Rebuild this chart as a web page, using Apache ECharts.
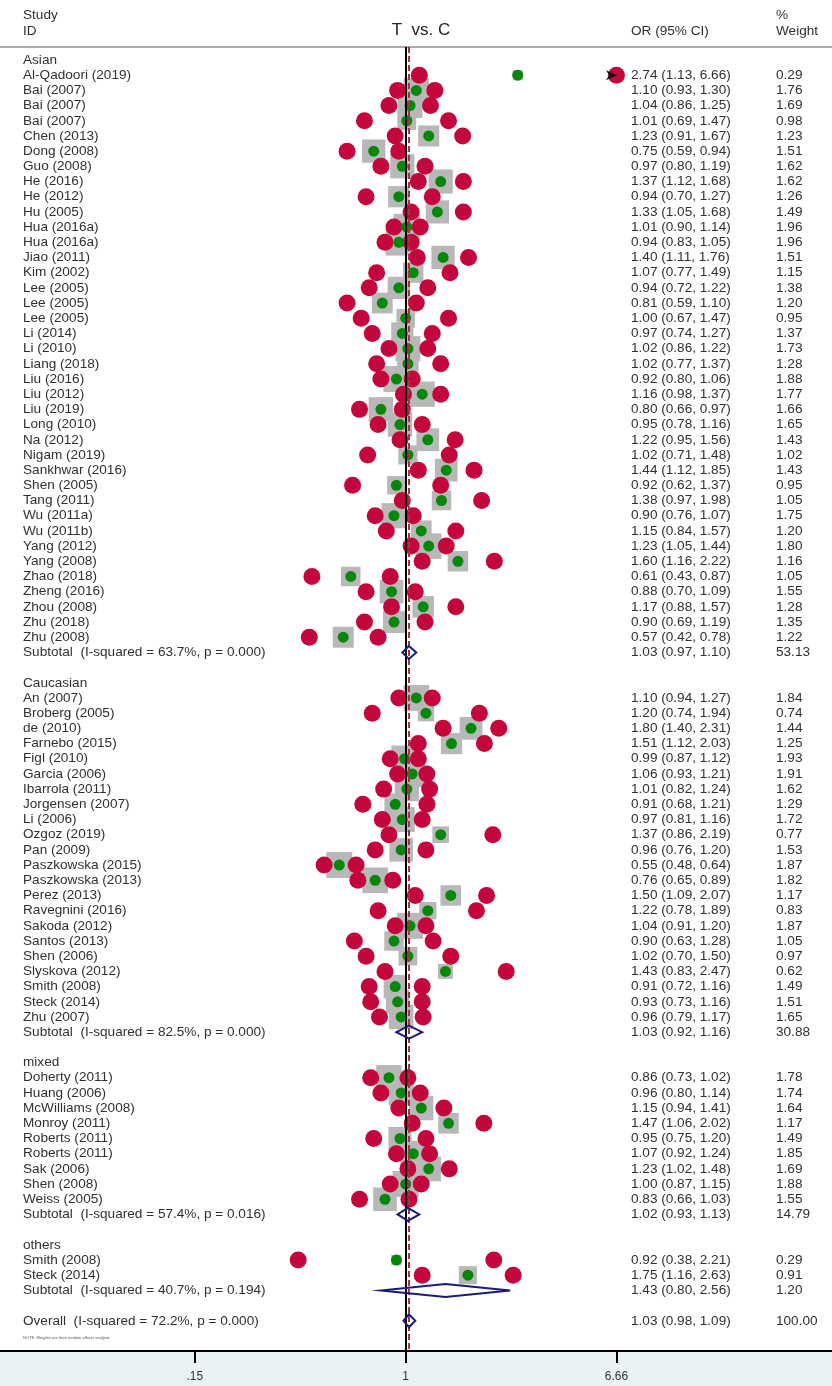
<!DOCTYPE html>
<html>
<head>
<meta charset="utf-8">
<title>T vs. C</title>
<script src="https://cdn.jsdelivr.net/npm/echarts@6.0.0/dist/echarts.min.js"></script>
<style>
  html, body { margin: 0; padding: 0; background: #fff; }
  #chart { width: 832px; height: 1386px; }
</style>
</head>
<body>
<div id="chart"></div>
<script>
// ---- data ----
const groupNames = ['Asian', 'Caucasian', 'mixed', 'others'];

const asianStudies = ['Al-Qadoori (2019)', 'Bai (2007)', 'Bai (2007)', 'Bai (2007)', 'Chen (2013)', 'Dong (2008)', 'Guo (2008)', 'He (2016)', 'He (2012)', 'Hu (2005)', 'Hua (2016a)', 'Hua (2016a)', 'Jiao (2011)', 'Kim (2002)', 'Lee (2005)', 'Lee (2005)', 'Lee (2005)', 'Li (2014)', 'Li (2010)', 'Liang (2018)', 'Liu (2016)', 'Liu (2012)', 'Liu (2019)', 'Long (2010)', 'Na (2012)', 'Nigam (2019)', 'Sankhwar (2016)', 'Shen (2005)', 'Tang (2011)', 'Wu (2011a)', 'Wu (2011b)', 'Yang (2012)', 'Yang (2008)', 'Zhao (2018)', 'Zheng (2016)', 'Zhou (2008)', 'Zhu (2018)', 'Zhu (2008)'];
const asianOR = [2.74, 1.10, 1.04, 1.01, 1.23, 0.75, 0.97, 1.37, 0.94, 1.33, 1.01, 0.94, 1.40, 1.07, 0.94, 0.81, 1.00, 0.97, 1.02, 1.02, 0.92, 1.16, 0.80, 0.95, 1.22, 1.02, 1.44, 0.92, 1.38, 0.90, 1.15, 1.23, 1.60, 0.61, 0.88, 1.17, 0.90, 0.57];
const asianLower = [1.13, 0.93, 0.86, 0.69, 0.91, 0.59, 0.80, 1.12, 0.70, 1.05, 0.90, 0.83, 1.11, 0.77, 0.72, 0.59, 0.67, 0.74, 0.86, 0.77, 0.80, 0.98, 0.66, 0.78, 0.95, 0.71, 1.12, 0.62, 0.97, 0.76, 0.84, 1.05, 1.16, 0.43, 0.70, 0.88, 0.69, 0.42];
const asianUpper = [6.66, 1.30, 1.25, 1.47, 1.67, 0.94, 1.19, 1.68, 1.27, 1.68, 1.14, 1.05, 1.76, 1.49, 1.22, 1.10, 1.47, 1.27, 1.22, 1.37, 1.06, 1.37, 0.97, 1.16, 1.56, 1.48, 1.85, 1.37, 1.98, 1.07, 1.57, 1.44, 2.22, 0.87, 1.09, 1.57, 1.19, 0.78];
const asianWeight = [0.29, 1.76, 1.69, 0.98, 1.23, 1.51, 1.62, 1.62, 1.26, 1.49, 1.96, 1.96, 1.51, 1.15, 1.38, 1.20, 0.95, 1.37, 1.73, 1.28, 1.88, 1.77, 1.66, 1.65, 1.43, 1.02, 1.43, 0.95, 1.05, 1.75, 1.20, 1.80, 1.16, 1.05, 1.55, 1.28, 1.35, 1.22];

const caucasianStudies = ['An (2007)', 'Broberg (2005)', 'de (2010)', 'Farnebo (2015)', 'Figl (2010)', 'Garcia (2006)', 'Ibarrola (2011)', 'Jorgensen (2007)', 'Li (2006)', 'Ozgoz (2019)', 'Pan (2009)', 'Paszkowska (2015)', 'Paszkowska (2013)', 'Perez (2013)', 'Ravegnini (2016)', 'Sakoda (2012)', 'Santos (2013)', 'Shen (2006)', 'Slyskova (2012)', 'Smith (2008)', 'Steck (2014)', 'Zhu (2007)'];
const caucasianOR = [1.10, 1.20, 1.80, 1.51, 0.99, 1.06, 1.01, 0.91, 0.97, 1.37, 0.96, 0.55, 0.76, 1.50, 1.22, 1.04, 0.90, 1.02, 1.43, 0.91, 0.93, 0.96];
const caucasianLower = [0.94, 0.74, 1.40, 1.12, 0.87, 0.93, 0.82, 0.68, 0.81, 0.86, 0.76, 0.48, 0.65, 1.09, 0.78, 0.91, 0.63, 0.70, 0.83, 0.72, 0.73, 0.79];
const caucasianUpper = [1.27, 1.94, 2.31, 2.03, 1.12, 1.21, 1.24, 1.21, 1.16, 2.19, 1.20, 0.64, 0.89, 2.07, 1.89, 1.20, 1.28, 1.50, 2.47, 1.16, 1.16, 1.17];
const caucasianWeight = [1.84, 0.74, 1.44, 1.25, 1.93, 1.91, 1.62, 1.29, 1.72, 0.77, 1.53, 1.87, 1.82, 1.17, 0.83, 1.87, 1.05, 0.97, 0.62, 1.49, 1.51, 1.65];

const mixedStudies = ['Doherty (2011)', 'Huang (2006)', 'McWilliams (2008)', 'Monroy (2011)', 'Roberts (2011)', 'Roberts (2011)', 'Sak (2006)', 'Shen (2008)', 'Weiss (2005)'];
const mixedOR = [0.86, 0.96, 1.15, 1.47, 0.95, 1.07, 1.23, 1.00, 0.83];
const mixedLower = [0.73, 0.80, 0.94, 1.06, 0.75, 0.92, 1.02, 0.87, 0.66];
const mixedUpper = [1.02, 1.14, 1.41, 2.02, 1.20, 1.24, 1.48, 1.15, 1.03];
const mixedWeight = [1.78, 1.74, 1.64, 1.17, 1.49, 1.85, 1.69, 1.88, 1.55];

const othersStudies = ['Smith (2008)', 'Steck (2014)'];
const othersOR = [0.92, 1.75];
const othersLower = [0.38, 1.16];
const othersUpper = [2.21, 2.63];
const othersWeight = [0.29, 0.91];

const subtotalOR = [1.03, 1.03, 1.02, 1.43];
const subtotalLower = [0.97, 0.92, 0.93, 0.80];
const subtotalUpper = [1.10, 1.16, 1.13, 2.56];
const subtotalWeight = [53.13, 30.88, 14.79, 1.20];
const subtotalI2 = [63.7, 82.5, 57.4, 40.7];
const subtotalP = [0.000, 0.000, 0.016, 0.194];

const overallOR = 1.03;
const overallLower = 0.98;
const overallUpper = 1.09;
const overallWeight = 100.00;
const overallI2 = 72.2;
const overallP = 0.000;

const tickValues = [0.15, 1, 6.66];
const tickLabels = ['.15', '1', '6.66'];

// ---- build table rows ----
const lg = Math.log10;
const groups = [
  { studies: asianStudies, or: asianOR, lo: asianLower, hi: asianUpper, w: asianWeight },
  { studies: caucasianStudies, or: caucasianOR, lo: caucasianLower, hi: caucasianUpper, w: caucasianWeight },
  { studies: mixedStudies, or: mixedOR, lo: mixedLower, hi: mixedUpper, w: mixedWeight },
  { studies: othersStudies, or: othersOR, lo: othersLower, hi: othersUpper, w: othersWeight }
];

const rows = [];
let r = 0;
groups.forEach((g, gi) => {
  rows.push({ row: r++, kind: 'header', label: groupNames[gi] });
  g.studies.forEach((name, i) => {
    rows.push({ row: r++, kind: 'study', label: name, or: g.or[i], lo: g.lo[i], hi: g.hi[i], w: g.w[i] });
  });
  rows.push({
    row: r++, kind: 'pooled',
    label: 'Subtotal  (I-squared = ' + subtotalI2[gi].toFixed(1) + '%, p = ' + subtotalP[gi].toFixed(3) + ')',
    or: subtotalOR[gi], lo: subtotalLower[gi], hi: subtotalUpper[gi], w: subtotalWeight[gi]
  });
  r++; // blank line
});
rows.push({
  row: r, kind: 'pooled',
  label: 'Overall  (I-squared = ' + overallI2.toFixed(1) + '%, p = ' + overallP.toFixed(3) + ')',
  or: overallOR, lo: overallLower, hi: overallUpper, w: overallWeight
});

const studyRows = rows.filter(d => d.kind === 'study');
const pooledRows = rows.filter(d => d.kind === 'pooled');
const axisTop = Math.max(...tickValues);

const FONT = '"Liberation Sans", Arial, sans-serif';
const TXT = '#303030';

function ciText(d) {
  return d.or.toFixed(2) + ' (' + d.lo.toFixed(2) + ', ' + d.hi.toFixed(2) + ')';
}

function renderDiamond(params, api) {
  const y = api.value(3);
  const a = api.coord([api.value(0), y]);
  const m = api.coord([api.value(1), y]);
  const b = api.coord([api.value(2), y]);
  const h = 6.5;
  return {
    type: 'polygon',
    shape: { points: [[a[0], a[1]], [m[0], m[1] - h], [b[0], b[1]], [m[0], m[1] + h]] },
    style: { fill: 'none', stroke: '#1b1b78', lineWidth: 2 }
  };
}

function renderRowText(params, api) {
  const d = rows[api.value(2)];
  const y = api.coord([0, d.row])[1];
  const st = { fill: TXT, font: '13.6px ' + FONT, verticalAlign: 'middle', align: 'left' };
  const kids = [{ type: 'text', x: 23, y: y, style: Object.assign({ text: d.label }, st) }];
  if (d.or != null) {
    kids.push({ type: 'text', x: 631, y: y, style: Object.assign({ text: ciText(d) }, st) });
    kids.push({ type: 'text', x: 776, y: y, style: Object.assign({ text: d.w.toFixed(2) }, st) });
  }
  return { type: 'group', children: kids };
}

const chart = echarts.init(document.getElementById('chart'));

const option = {
  backgroundColor: '#fff',
  animation: false,
  grid: { left: 0, right: 0, top: 47, bottom: 35 },
  xAxis: [
    {
      type: 'value',
      min: -1.5854,
      max: 1.6659,
      position: 'bottom',
      splitLine: { show: false },
      axisLine: { onZero: false, lineStyle: { color: '#000', width: 2 } },
      axisTick: {
        customValues: tickValues.map(lg),
        length: 12,
        lineStyle: { color: '#000', width: 2 }
      },
      axisLabel: {
        customValues: tickValues.map(lg),
        margin: 20,
        color: '#333',
        fontSize: 12,
        fontFamily: FONT,
        formatter: v => {
          const i = tickValues.findIndex(t => Math.abs(lg(t) - v) < 1e-6);
          return i >= 0 ? tickLabels[i] : '';
        }
      }
    },
    {
      type: 'value',
      min: -1.5854,
      max: 1.6659,
      position: 'top',
      splitLine: { show: false },
      axisLine: { onZero: false, lineStyle: { color: '#aaaaaa', width: 2 } },
      axisTick: { show: false },
      axisLabel: { show: false }
    }
  ],
  yAxis: {
    type: 'value',
    inverse: true,
    min: -0.856,
    max: 84.99,
    show: false
  },
  graphic: [
    { type: 'rect', z: -1, shape: { x: 0, y: 1352, width: 832, height: 34 }, style: { fill: '#eaf2f4' } },
    { type: 'text', x: 23, y: 15, style: { text: 'Study', fill: TXT, font: '13.6px ' + FONT, verticalAlign: 'middle' } },
    { type: 'text', x: 23, y: 31, style: { text: 'ID', fill: TXT, font: '13.6px ' + FONT, verticalAlign: 'middle' } },
    { type: 'text', x: 421, y: 30, style: { text: 'T  vs. C', fill: '#222', font: '17px ' + FONT, verticalAlign: 'middle', align: 'center' } },
    { type: 'text', x: 631, y: 31, style: { text: 'OR (95% CI)', fill: TXT, font: '13.6px ' + FONT, verticalAlign: 'middle' } },
    { type: 'text', x: 776, y: 15, style: { text: '%', fill: TXT, font: '13.6px ' + FONT, verticalAlign: 'middle' } },
    { type: 'text', x: 776, y: 31, style: { text: 'Weight', fill: TXT, font: '13.6px ' + FONT, verticalAlign: 'middle' } },
    { type: 'text', x: 23, y: 1338, style: { text: 'NOTE: Weights are from random effects analysis', fill: '#555', font: '4px ' + FONT, verticalAlign: 'middle' } }
  ],
  series: [
    {
      // reference lines: null effect and overall estimate
      type: 'scatter',
      data: [],
      z: 1,
      silent: true,
      markLine: {
        silent: true,
        symbol: 'none',
        label: { show: false },
        data: [
          { xAxis: 0, lineStyle: { color: '#000', width: 2, type: 'solid', opacity: 1 } },
          { xAxis: lg(overallOR), lineStyle: { color: '#b03038', width: 2, type: [6, 3], opacity: 1 } }
        ]
      }
    },
    {
      name: 'weight',
      type: 'scatter',
      symbol: 'rect',
      silent: true,
      z: 2,
      data: studyRows.map(d => [lg(d.or), d.row, d.w]),
      symbolSize: v => 19 * Math.sqrt(v[2]),
      itemStyle: { color: '#b8b8b8', opacity: 1 }
    },
    {
      name: 'CI',
      type: 'scatter',
      symbol: 'circle',
      silent: true,
      z: 3,
      symbolSize: 17,
      data: studyRows.flatMap(d => [[lg(d.lo), d.row], [lg(Math.min(d.hi, axisTop)), d.row]]),
      itemStyle: { color: '#c3063b', opacity: 1 }
    },
    {
      name: 'OR',
      type: 'scatter',
      symbol: 'circle',
      silent: true,
      z: 4,
      symbolSize: 11,
      data: studyRows.map(d => [lg(d.or), d.row]),
      itemStyle: { color: '#07870a', opacity: 1 }
    },
    {
      name: 'clipped',
      type: 'scatter',
      silent: true,
      z: 5,
      symbol: 'path://M0,0L10,5L0,10L3,5Z',
      symbolSize: [11, 10],
      symbolOffset: [-5, 0],
      data: studyRows.filter(d => d.hi >= axisTop).map(d => [lg(axisTop), d.row]),
      itemStyle: { color: '#111', opacity: 1 }
    },
    {
      name: 'pooled',
      type: 'custom',
      silent: true,
      z: 6,
      renderItem: renderDiamond,
      encode: { x: [0, 1, 2], y: 3 },
      data: pooledRows.map(d => [lg(d.lo), lg(d.or), lg(d.hi), d.row])
    },
    {
      name: 'table',
      type: 'custom',
      silent: true,
      z: 7,
      renderItem: renderRowText,
      encode: { x: 0, y: 1 },
      data: rows.map((d, i) => [0, d.row, i])
    }
  ]
};

chart.setOption(option);
</script>
</body>
</html>
